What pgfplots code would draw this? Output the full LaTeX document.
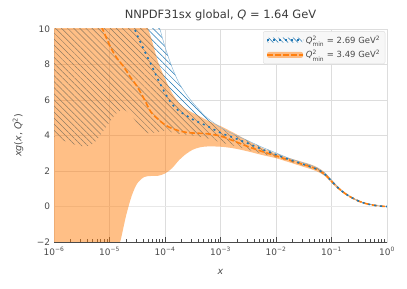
\documentclass[border=0pt]{standalone}
\usepackage{pgfplots}
\pgfplotsset{compat=1.18}
\usepackage{pgfplotstable}
\usepgfplotslibrary{fillbetween}
\usetikzlibrary{patterns.meta}
\usepackage{fontspec}
\setmainfont{DejaVu Sans}

\definecolor{cblue}{HTML}{1F77B4}
\definecolor{corange}{HTML}{FF7F0E}
\definecolor{gridgray}{HTML}{DDDDDD}
\definecolor{zerogray}{HTML}{E8E8E8}
\definecolor{txtgray}{HTML}{4A4A4A}

\newcommand{\Qmin}{\textit{Q}$^{\mbox{\fontsize{6}{7}\selectfont 2}}_{\mbox{\fontsize{6}{7}\selectfont min}}$}

% x is log10(x)
\pgfplotstableread{
x y
-6 16
-5 15
-4.5 14
-4.25 11.5
-4.125 10.35
-4.0 9.0
-3.875 7.86
-3.75 6.97
-3.625 6.35
-3.5 5.85
-3.375 5.42
-3.25 5.02
-3.0 4.45
-2.75 4.05
-2.5 3.7
-2.25 3.34
-2.0 3.02
-1.75 2.7
-1.5 2.45
-1.375 2.33
-1.25 2.16
-1.125 1.9
-1.0 1.49
-0.875 1.07
-0.75 0.75
-0.625 0.5
-0.5 0.31
-0.375 0.17
-0.25 0.085
-0.125 0.03
0 0.003
}\bu

\pgfplotstableread{
x y
-6 3.95
-5.875 3.78
-5.75 3.62
-5.625 3.48
-5.5 3.4
-5.375 3.42
-5.25 3.68
-5.125 4.2
-5.0 4.75
-4.875 5.25
-4.75 5.45
-4.625 5.2
-4.5 4.7
-4.375 4.2
-4.25 4.12
-4.125 4.2
-4.0 4.28
-3.875 4.18
-3.75 4.1
-3.5 4.0
-3.25 3.85
-3.0 3.62
-2.75 3.42
-2.5 3.2
-2.25 2.98
-2.0 2.76
-1.75 2.53
-1.5 2.28
-1.375 2.16
-1.25 2.0
-1.125 1.76
-1.0 1.38
-0.875 0.99
-0.75 0.69
-0.625 0.46
-0.5 0.27
-0.375 0.15
-0.25 0.075
-0.125 0.02
0 -0.003
}\bl

\pgfplotstableread{
x y
-4.875 12.8
-4.75 11.6
-4.625 10.6
-4.5 9.65
-4.375 8.8
-4.25 8.0
-4.125 7.15
-4.0 6.4
-3.875 5.78
-3.75 5.38
-3.625 5.15
-3.5 4.9
-3.25 4.55
-3.0 4.15
-2.75 3.86
-2.5 3.55
-2.25 3.22
-2.0 2.92
-1.75 2.63
-1.5 2.37
-1.375 2.24
-1.25 2.08
-1.125 1.83
-1.0 1.43
-0.875 1.03
-0.75 0.72
-0.625 0.48
-0.5 0.29
-0.375 0.16
-0.25 0.08
-0.125 0.025
0 0.0
}\bc

\pgfplotstableread{
x y
-6 16
-5 14
-4.5 11.5
-4.375 10.6
-4.25 9.5
-4.125 8.15
-4.0 7.21
-3.875 6.4
-3.75 5.85
-3.625 5.5
-3.5 5.28
-3.375 5.08
-3.25 4.87
-3.125 4.7
-3.0 4.53
-2.75 4.13
-2.5 3.7
-2.25 3.3
-2.0 2.98
-1.75 2.72
-1.5 2.49
-1.375 2.37
-1.25 2.2
-1.125 1.93
-1.0 1.51
-0.875 1.09
-0.75 0.77
-0.625 0.52
-0.5 0.32
-0.375 0.18
-0.25 0.09
-0.125 0.035
0 0.005
}\ou

\pgfplotstableread{
x y
-6 -6
-5.5 -5.5
-5.0 -3.9
-4.875 -2.6
-4.8 -1.9
-4.7 -0.5
-4.6 0.6
-4.5 1.3
-4.375 1.66
-4.25 1.72
-4.125 1.73
-4.0 1.86
-3.875 2.15
-3.75 2.6
-3.625 2.95
-3.5 3.2
-3.375 3.33
-3.25 3.38
-3.0 3.37
-2.75 3.27
-2.5 3.1
-2.25 2.9
-2.0 2.72
-1.75 2.48
-1.5 2.23
-1.375 2.11
-1.25 1.96
-1.125 1.73
-1.0 1.35
-0.875 0.97
-0.75 0.67
-0.625 0.44
-0.5 0.26
-0.375 0.14
-0.25 0.07
-0.125 0.015
0 -0.005
}\ol

\pgfplotstableread{
x y
-5.5 12.6
-5.25 10.9
-5.0 9.1
-4.875 8.4
-4.75 7.9
-4.625 7.3
-4.5 6.75
-4.375 6.05
-4.25 5.3
-4.125 4.92
-4.0 4.6
-3.875 4.4
-3.75 4.27
-3.625 4.18
-3.5 4.14
-3.25 4.1
-3.0 3.97
-2.75 3.68
-2.5 3.37
-2.25 3.1
-2.0 2.85
-1.75 2.6
-1.5 2.36
-1.375 2.24
-1.25 2.08
-1.125 1.83
-1.0 1.43
-0.875 1.03
-0.75 0.72
-0.625 0.48
-0.5 0.29
-0.375 0.16
-0.25 0.08
-0.125 0.025
0 0.0
}\oc

\begin{document}
\begin{tikzpicture}
\begin{axis}[
    set layers,
    scale only axis,
    width=333bp, height=213bp,
    at={(0,0)}, anchor=south west,
    xmin=-6, xmax=0, ymin=-2, ymax=10,
    xtick={-6,-5,-4,-3,-2,-1,0},
    xticklabels={10\textsuperscript{−6},10\textsuperscript{−5},10\textsuperscript{−4},10\textsuperscript{−3},10\textsuperscript{−2},10\textsuperscript{−1},10\textsuperscript{0}},
    minor xtick={-5.699,-5.523,-5.398,-5.301,-5.222,-5.155,-5.097,-5.046,
                 -4.699,-4.523,-4.398,-4.301,-4.222,-4.155,-4.097,-4.046,
                 -3.699,-3.523,-3.398,-3.301,-3.222,-3.155,-3.097,-3.046,
                 -2.699,-2.523,-2.398,-2.301,-2.222,-2.155,-2.097,-2.046,
                 -1.699,-1.523,-1.398,-1.301,-1.222,-1.155,-1.097,-1.046,
                 -0.699,-0.523,-0.398,-0.301,-0.222,-0.155,-0.097,-0.046},
    ytick={-2,0,2,4,6,8,10},
    yticklabels={−2,0,2,4,6,8,10},
    extra y ticks={0}, extra y tick labels={},
    extra y tick style={grid style={zerogray, line width=1.8bp}},
    xmajorgrids, ymajorgrids,
    grid style={gridgray, line width=0.8bp},
    axis line style={gridgray, line width=0.8bp},
    tick align=inside,
    xtick pos=left,
    ytick style={draw=none},
    xtick style={txtgray, line width=0.8bp},
    major tick length=4.5bp, minor tick length=2.5bp,
    tick label style={font=\fontsize{9}{10}\selectfont, text=txtgray},
    xticklabel style={yshift=-1.5bp},
    yticklabel style={xshift=-0.5bp},
    title={NNPDF31sx global, \textit{Q} = 1.64 GeV},
    title style={font=\fontsize{11.5}{13}\selectfont, text=txtgray!80!black, yshift=-1bp},
    xlabel={\textit{x}},
    ylabel={\textit{xg}(\textit{x}, \textit{Q}\textsuperscript{2})},
    label style={font=\fontsize{9.5}{11}\selectfont, text=txtgray},
    xlabel style={at={(axis description cs:0.5,-0.14)}, anchor=center},
    ylabel style={at={(axis description cs:-0.108,0.5)}, anchor=center},
    legend cell align=left,
    legend style={at={(0.995,0.99)}, anchor=north east,
        draw=gridgray, fill=black!3, rounded corners=2bp,
        font=\fontsize{8.5}{10}\selectfont, text=txtgray,
        inner xsep=3bp, inner ysep=2.5bp, row sep=2bp},
    after end axis/.code={\draw[txtgray, line width=1bp] (rel axis cs:0,0) -- (rel axis cs:1,0);},
]
% blue band (hatched)
\addplot[forget plot, name path=bu, smooth, cblue!55, line width=0.45bp] table {\bu};
\addplot[forget plot, name path=bl, smooth, draw=none] table {\bl};
\addplot[forget plot, draw=none, pattern={Lines[angle=-45, distance=4.3bp, line width=0.5bp]}, pattern color=cblue] fill between[of=bu and bl];
% orange band
\addplot[forget plot, name path=ou, smooth, draw=none] table {\ou};
\addplot[forget plot, name path=ol, smooth, draw=none] table {\ol};
\addplot[forget plot, draw=none, fill=corange, fill opacity=0.5] fill between[of=ou and ol];
% central lines
\addplot[forget plot, smooth, corange, line width=1.6bp, dash pattern=on 5.5bp off 2.5bp] table {\oc};
\addplot[forget plot, smooth, cblue, line width=1.6bp, dash pattern=on 2bp off 4bp] table {\bc};

\addlegendimage{legend image code/.code={
    \path[draw=none, pattern={Lines[angle=-45, distance=3.5bp, line width=0.5bp]}, pattern color=cblue] (0bp,-2.5bp) rectangle (36bp,2.5bp);
    \path[draw=cblue, line width=1.6bp, dash pattern=on 2bp off 4bp] (0bp,0bp) -- (36bp,0bp);}}
\addlegendentry{\Qmin{} = 2.69 GeV\textsuperscript{2}}
\addlegendimage{legend image code/.code={
    \path[draw=none, fill=corange, fill opacity=0.5] (0bp,-3bp) rectangle (36bp,3bp);
    \path[draw=corange, line width=1.6bp, dash pattern=on 5.5bp off 2.5bp] (0bp,0bp) -- (36bp,0bp);}}
\addlegendentry{\Qmin{} = 3.49 GeV\textsuperscript{2}}
\end{axis}
\pgfresetboundingbox
\path (-54bp,-47bp) rectangle (353bp,242bp);
\end{tikzpicture}
\end{document}
